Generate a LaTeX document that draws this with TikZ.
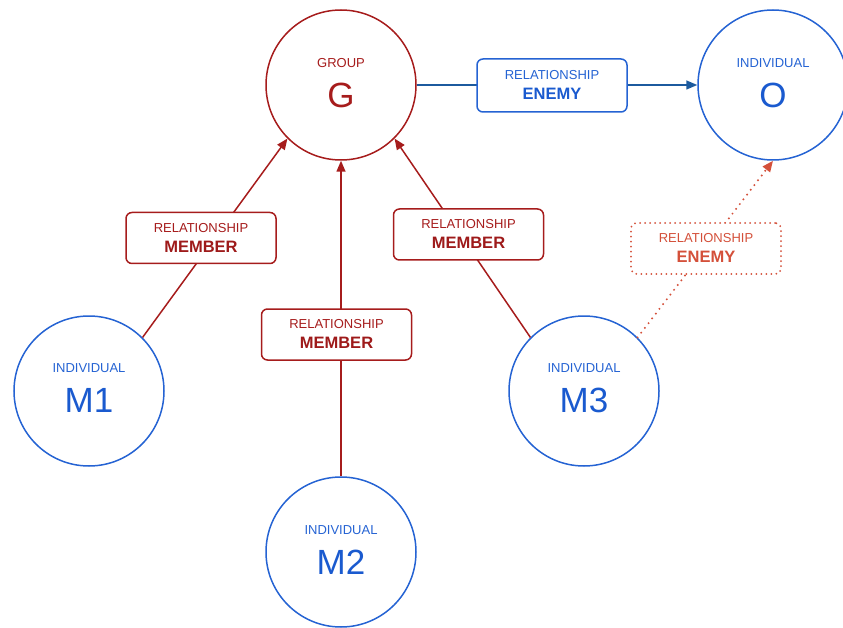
\documentclass[tikz,border=0pt]{standalone}
\usepackage{fontspec}
\setmainfont{Liberation Sans}
\usetikzlibrary{arrows.meta}
\definecolor{rd}{HTML}{A61C1C}
\definecolor{rdtext}{HTML}{9E1A1A}
\definecolor{bl}{HTML}{2563D3}
\definecolor{bltext}{HTML}{1A5ACF}
\definecolor{blline}{HTML}{1C5A9E}
\definecolor{org}{HTML}{D4503A}
\tikzset{
  circ/.style={circle, draw=bl, line width=1.5pt, minimum size=150pt, inner sep=0pt},
  gcirc/.style={circ, draw=rd},
  rbox/.style={rectangle, rounded corners=6pt, draw=rd, fill=white, line width=1.5pt, minimum width=150pt, minimum height=51pt, inner sep=0pt},
  bbox/.style={rbox, draw=bl},
  obox/.style={rbox, draw=org, dash pattern=on 0pt off 5pt, line cap=round, line width=2pt},
  small/.style={inner sep=0pt, font=\fontsize{13}{15}\selectfont},
  big/.style={inner sep=0pt, font=\fontsize{35}{40}\selectfont},
  bold/.style={inner sep=0pt, font=\fontsize{16.5}{19}\selectfont\bfseries},
  redline/.style={draw=rd, line width=1.5pt, -{Triangle[length=11pt,width=9pt]}},
  blueline/.style={draw=blline, line width=1.5pt, -{Triangle[length=11pt,width=9pt]}},
  orgline/.style={draw=org, line width=2.2pt, dash pattern=on 0pt off 6pt, line cap=round, -{Triangle[length=11pt,width=9pt,fill=org,line cap=butt]}},
}
\begin{document}
\begin{tikzpicture}[x=1pt,y=-1pt]
\useasboundingbox (0,0) rectangle (843,628);
% circles
\node[gcirc] (g) at (341,85) {};
\node[circ] (o) at (773,85) {};
\node[circ] (m1) at (89,391) {};
\node[circ] (m2) at (341,552) {};
\node[circ] (m3) at (584,391) {};
% circle texts
\node[small, text=rd] (gl) at (341,63) {GROUP};
\node[big, text=rd] (gt) at (341,95) {G};
\node[small, text=bl] (ol) at (773,63) {INDIVIDUAL};
\node[big, text=bltext] (ot) at (773,95) {O};
\node[small, text=bl] (m1l) at (89,368) {INDIVIDUAL};
\node[big, text=bltext] (m1t) at (89,400) {M1};
\node[small, text=bl] (m2l) at (341,530) {INDIVIDUAL};
\node[big, text=bltext] (m2t) at (341,562) {M2};
\node[small, text=bl] (m3l) at (584,368) {INDIVIDUAL};
\node[big, text=bltext] (m3t) at (584,400) {M3};
% connectors
\draw[blueline] (g.east) -- (o.west);
\draw[redline] (m1.45) -- (g.225);
\draw[redline] (m2.north) -- (g.south);
\draw[redline] (m3.135) -- (g.-45);
\draw[orgline] (m3.45) -- (o.south);
% relationship boxes
\node[bbox, minimum height=53pt] (be) at (552,85.5) {};
\node[small, text=bl] (bel) at (552,75) {RELATIONSHIP};
\node[bold, text=bltext] (bet) at (552,94) {ENEMY};
\node[rbox] (r1) at (201,238) {};
\node[small, text=rd] (r1l) at (201,228) {RELATIONSHIP};
\node[bold, text=rdtext] (r1t) at (201,246.5) {MEMBER};
\node[rbox] (r2) at (336.5,334.5) {};
\node[small, text=rd] (r2l) at (336.5,324.5) {RELATIONSHIP};
\node[bold, text=rdtext] (r2t) at (336.5,343) {MEMBER};
\node[rbox] (r3) at (468.5,234.5) {};
\node[small, text=rd] (r3l) at (468.5,224.5) {RELATIONSHIP};
\node[bold, text=rdtext] (r3t) at (468.5,243) {MEMBER};
\node[obox] (ro) at (706,248.5) {};
\node[small, text=org] (rol) at (706,238.5) {RELATIONSHIP};
\node[bold, text=org] (rot) at (706,257) {ENEMY};
\end{tikzpicture}
\end{document}
